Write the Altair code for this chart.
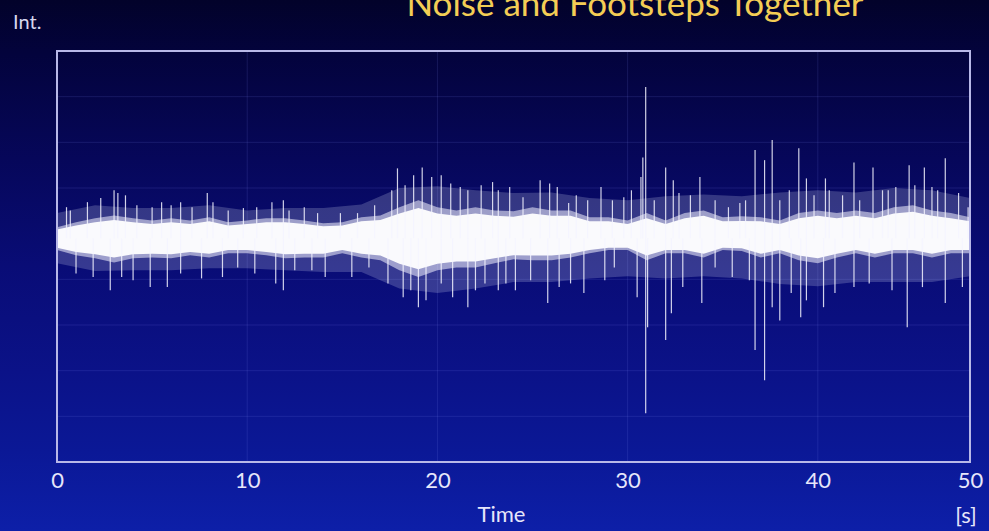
import altair as alt
import pandas as pd

# ---- data ----
# time axis (s) and amplitude (arbitrary units, one grid step = 10)
band_t = list(range(49))
# solid white centre of the signal
core_hi = [1.9, 2.8, 3.5, 4.0, 3.5, 3.1, 3.5, 3.1, 3.7, 2.8, 3.1, 3.5, 3.5, 3.1, 2.6, 2.8, 3.7, 4.0,
           5.4, 6.6, 5.4, 4.9, 5.4, 4.9, 4.7, 5.4, 4.9, 4.9, 3.7, 3.7, 3.1, 4.4, 3.1, 4.4, 4.9, 3.7,
           3.8, 3.7, 3.1, 4.4, 4.9, 4.4, 4.9, 4.4, 5.4, 5.8, 4.9, 4.4, 3.7]
core_lo = [-2.1, -3.0, -3.5, -4.2, -3.5, -3.4, -3.5, -3.0, -3.4, -2.6, -2.6, -3.0, -3.5, -3.4, -3.4,
           -2.6, -3.4, -3.8, -5.6, -6.8, -5.6, -5.1, -5.1, -4.4, -3.7, -3.8, -3.8, -3.4, -2.6, -2.1,
           -2.1, -3.8, -2.6, -2.6, -3.4, -2.1, -2.2, -3.4, -2.6, -3.8, -4.4, -3.4, -2.6, -3.4, -2.6,
           -2.6, -3.4, -2.6, -2.6]
# dense (mostly white) part around it
dense_hi = [2.4, 3.5, 4.4, 5.0, 4.4, 3.9, 4.4, 3.9, 4.6, 3.5, 3.9, 4.4, 4.4, 3.9, 3.3, 3.5, 4.6, 5.0,
            6.8, 8.3, 6.8, 6.1, 6.8, 6.1, 5.9, 6.8, 6.1, 6.1, 4.6, 4.6, 3.9, 5.5, 3.9, 5.5, 6.1, 4.6,
            4.8, 4.6, 3.9, 5.5, 6.1, 5.5, 6.1, 5.5, 6.8, 7.2, 6.1, 5.5, 4.6]
dense_lo = [-2.6, -3.7, -4.4, -5.3, -4.4, -4.2, -4.4, -3.7, -4.2, -3.3, -3.3, -3.7, -4.4, -4.2, -4.2,
            -3.3, -4.2, -4.8, -7.0, -8.5, -7.0, -6.4, -6.4, -5.5, -4.6, -4.8, -4.8, -4.2, -3.3, -2.6,
            -2.6, -4.8, -3.3, -3.3, -4.2, -2.6, -2.8, -4.2, -3.3, -4.8, -5.5, -4.2, -3.3, -4.2, -3.3,
            -3.3, -4.2, -3.3, -3.3]

# outer fuzzy halo reached by the many short spikes
fuzz_t = list(range(0, 49, 2))
fuzz_hi = [5.5, 7.2, 6.6, 6.6, 7.2, 6.1, 6.6, 6.6, 7.4, 11.0, 11.4, 10.5, 9.9, 10.0, 8.8, 8.3, 9.2,
           9.6, 9.2, 10.0, 10.5, 10.0, 11.0, 10.5, 8.8]
fuzz_lo = [-5.5, -7.2, -7.0, -7.0, -6.6, -6.6, -7.0, -7.4, -7.4, -11.0, -12.0, -11.0, -9.6, -9.6,
           -8.8, -8.3, -8.8, -8.3, -8.8, -10.0, -10.5, -9.6, -9.6, -9.6, -8.3]

spike_up_t = [0.5, 0.7, 1.6, 2.3, 3.0, 3.2, 3.6, 4.2, 5.0, 5.5, 6.0, 6.5, 7.1, 7.9, 8.2, 9.0, 9.8, 10.5, 11.3, 11.9,
              12.2, 13.0, 13.7, 14.9, 15.8, 16.7, 17.6, 17.9, 18.3, 18.75, 19.2, 19.7, 20.2, 20.7, 21.2, 21.6, 22.3, 22.9, 23.2, 23.8,
              24.5, 25.4, 25.9, 26.3, 26.9, 27.3, 27.9, 28.6, 29.2, 29.8, 30.2, 30.7, 30.8, 30.95, 31.4, 32.0, 32.4, 32.7, 33.3, 33.8, 34.6, 35.3, 35.9,
              36.2, 36.7, 37.2, 37.6, 38.0, 38.5, 39.0, 39.4, 39.8, 40.4, 40.6, 41.3, 41.9, 42.2, 42.9, 43.4, 43.7, 44.1, 44.8, 45.1, 45.6, 46.0, 46.3, 46.7, 47.4, 47.9]
spike_up_v = [6.8, 6.1, 7.9, 8.8, 10.5, 9.9, 9.4, 7.2, 6.8, 7.9, 7.2, 7.9, 6.8, 9.9, 7.9, 6.1, 6.6, 6.8, 7.9, 8.3,
              6.1, 6.8, 5.5, 5.5, 5.5, 7.2, 10.5, 15.3, 11.6, 13.8, 15.5, 13.4, 13.8, 12.0, 11.2, 10.5, 11.6, 12.3, 10.5, 11.2,
              9.0, 12.7, 12.0, 11.2, 7.7, 9.4, 8.3, 11.2, 8.3, 9.0, 10.5, 13.4, 17.7, 33.1, 8.3, 15.5, 12.7, 9.9, 9.4, 13.4, 8.3, 6.8, 7.7,
              8.3, 19.3, 17.1, 21.5, 8.3, 10.5, 19.7, 13.1, 9.4, 13.1, 10.5, 9.4, 16.6, 8.3, 15.5, 10.5, 10.5, 11.2, 16.0, 11.6, 15.5, 11.2, 10.5, 17.5, 9.9, 6.8]

spike_dn_t = [1.0, 1.9, 2.8, 3.4, 4.0, 4.9, 5.8, 6.5, 7.6, 8.7, 9.5, 10.4, 11.5, 11.9,
              12.5, 13.4, 14.1, 15.5, 16.4, 17.4, 18.2, 18.6, 19.0, 19.4, 20.2, 20.8, 21.6, 22.0, 22.5, 23.2, 23.6,
              24.1, 24.9, 25.8, 26.4, 27.0, 27.7, 28.8, 29.3, 30.5, 30.95, 31.05, 32.0, 32.3, 32.9, 33.9, 34.6, 35.5,
              36.4, 36.7, 37.2, 37.6, 38.0, 38.6, 39.1, 39.4, 40.3, 40.9, 41.9, 42.7, 43.9, 44.7, 45.5, 46.7, 47.6]
spike_dn_v = [-7.7, -8.5, -11.4, -8.5, -9.2, -10.7, -10.7, -7.7, -8.8, -8.5, -6.4, -7.7, -9.9, -11.4,
              -7.0, -7.0, -8.5, -8.5, -6.4, -9.9, -12.9, -11.4, -15.1, -13.6, -9.9, -12.9, -15.1, -11.4, -9.9, -11.4, -9.9,
              -11.4, -9.2, -14.2, -10.7, -9.9, -12.0, -9.2, -6.4, -12.9, -38.3, -19.5, -22.3, -16.4, -10.7, -14.2, -6.4, -8.5,
              -9.2, -24.5, -31.1, -15.1, -18.0, -12.0, -17.3, -13.6, -15.1, -12.0, -10.7, -9.9, -11.4, -19.5, -10.7, -14.2, -10.7]

x_ticks = [0, 10, 20, 30, 40, 48]
x_grid = [10, 20, 30, 40]
y_grid = [-39, -29, -19, -9, 1, 11, 21, 31]
x_domain = [0, 48]
y_domain = [-49, 41]

TITLE = "Noise and Footsteps Together"
FONT = "Lato"
W, H = 913, 411

# ---- tables ----
band_df = pd.DataFrame({"t": band_t, "clo": core_lo, "chi": core_hi, "dlo": dense_lo, "dhi": dense_hi})
fuzz_df = pd.DataFrame({"t": fuzz_t, "lo": fuzz_lo, "hi": fuzz_hi})
up_df = pd.DataFrame({"t": spike_up_t[:len(spike_up_v)], "v": spike_up_v[:len(spike_up_t)]})
dn_df = pd.DataFrame({"t": spike_dn_t[:len(spike_dn_v)], "v": spike_dn_v[:len(spike_dn_t)]})
gx_df = pd.DataFrame({"t": x_grid})
gy_df = pd.DataFrame({"v": y_grid})
one = pd.DataFrame({"a": [0]})

xscale = alt.Scale(domain=x_domain, nice=False, zero=False)
yscale = alt.Scale(domain=y_domain, nice=False, zero=False)

xaxis = alt.Axis(
    values=x_ticks,
    labelExpr="datum.value >= 48 ? '50' : datum.label",
    title="Time", titleFont=FONT, titleFontSize=22, titleFontWeight="normal",
    titleColor="#e6e6fa", titleBaseline="alphabetic", titleAlign="center",
    titleX=444, titleY=59,
    labelFont=FONT, labelFontSize=22, labelColor="#e6e6fa",
    labelBaseline="alphabetic", labelPadding=25, labelFlush=False, labelOverlap=False,
    grid=False, domain=False, ticks=False, tickSize=0, zindex=1,
)


def X(field="t"):
    return alt.X(f"{field}:Q", scale=xscale, axis=xaxis, title="Time")


def Y(field):
    return alt.Y(f"{field}:Q", scale=yscale, axis=None)


gradient = {
    "gradient": "linear", "x1": 0, "x2": 0, "y1": 0, "y2": 1,
    "stops": [
        {"offset": 0.0, "color": "#02022a"},
        {"offset": 0.1, "color": "#03033c"},
        {"offset": 0.3, "color": "#06075a"},
        {"offset": 0.5, "color": "#090c76"},
        {"offset": 0.7, "color": "#0b1288"},
        {"offset": 0.85, "color": "#0b1896"},
        {"offset": 1.0, "color": "#0d1fa8"},
    ],
}

bg = alt.Chart(one).mark_rect(fill=gradient, clip=False).encode(
    x=alt.value(-57), x2=alt.value(W + 19), y=alt.value(-51), y2=alt.value(H + 69)
)

grid_x = alt.Chart(gx_df).mark_rule(color="#8c96ff", opacity=0.14, strokeWidth=1).encode(x=X())
grid_y = alt.Chart(gy_df).mark_rule(color="#8c96ff", opacity=0.14, strokeWidth=1).encode(y=Y("v"))

fuzz = alt.Chart(fuzz_df).mark_area(color="#eceeff", opacity=0.2).encode(
    x=X(), y=Y("lo"), y2="hi:Q"
)
dense = alt.Chart(band_df).mark_area(color="#f2f2ff", opacity=0.55).encode(
    x=X(), y=Y("dlo"), y2="dhi:Q"
)
core = alt.Chart(band_df).mark_area(color="#ffffff", opacity=0.95).encode(
    x=X(), y=Y("clo"), y2="chi:Q"
)
up = alt.Chart(up_df).mark_rule(color="#f4f4ff", opacity=0.85, strokeWidth=1.2).encode(
    x=X(), y=Y("v"), y2=alt.datum(0)
)
dn = alt.Chart(dn_df).mark_rule(color="#f4f4ff", opacity=0.85, strokeWidth=1.2).encode(
    x=X(), y=Y("v"), y2=alt.datum(0)
)

frame = alt.Chart(one).mark_rect(fillOpacity=0, stroke="#b8b8e8", strokeWidth=2).encode(
    x=alt.value(0), x2=alt.value(W), y=alt.value(0), y2=alt.value(H)
)

title = alt.Chart(one).mark_text(
    text=TITLE, font=FONT, fontSize=35, color="#f3cd55", align="center", baseline="alphabetic"
).encode(x=alt.value(578), y=alt.value(-35))

int_lbl = alt.Chart(one).mark_text(
    text="Int.", font=FONT, fontSize=20, color="#d6d6ee", align="left", baseline="alphabetic"
).encode(x=alt.value(-44), y=alt.value(-22))

unit_lbl = alt.Chart(one).mark_text(
    text="[s]", font=FONT, fontSize=22, color="#e6e6fa", align="center", baseline="alphabetic"
).encode(x=alt.value(909), y=alt.value(H + 61))

chart = alt.layer(
    bg, grid_x, grid_y, fuzz, dense, core, up, dn, frame, title, int_lbl, unit_lbl
).properties(
    width=W, height=H,
    autosize=alt.AutoSizeParams(type="none"),
    padding={"left": 57, "top": 51, "right": 19, "bottom": 69},
    background="#060a5a",
).configure_view(strokeWidth=0)

chart.save("out.html", embed_options={"renderer": "svg", "actions": False})
